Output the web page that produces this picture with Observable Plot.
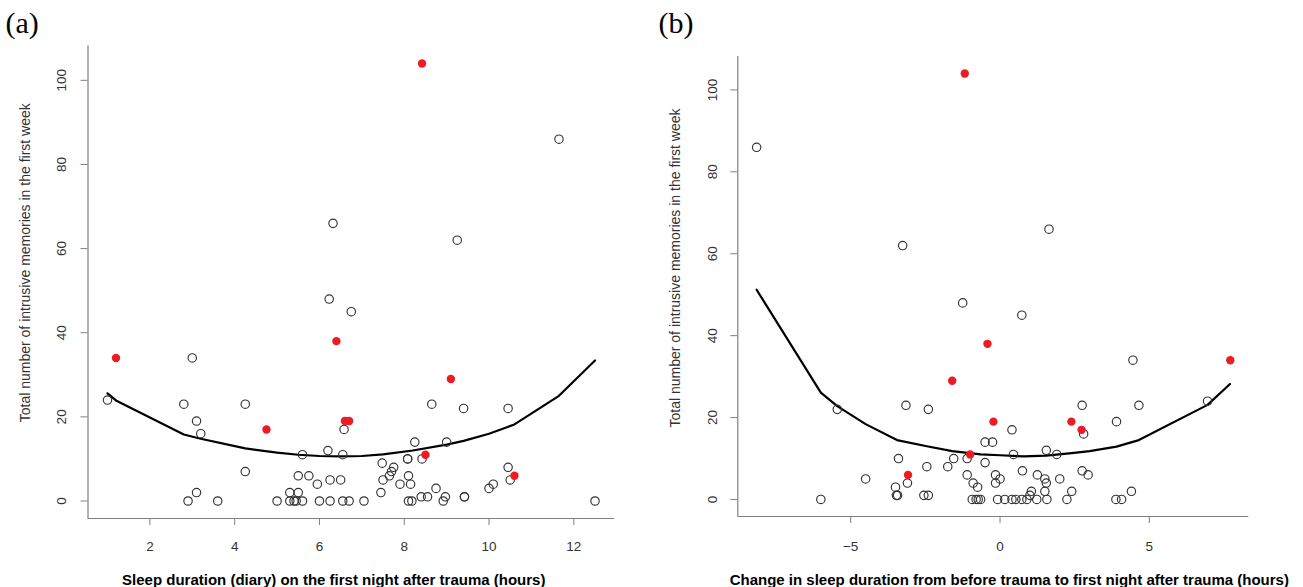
<!DOCTYPE html>
<html><head><meta charset="utf-8">
<script src="https://cdn.jsdelivr.net/npm/d3@7"></script>
<script src="https://cdn.jsdelivr.net/npm/@observablehq/plot@0.6"></script>
<style>
html,body{margin:0;padding:0;background:#fff;}
#wrap{position:relative;width:1303px;height:587px;overflow:hidden;background:#fff;}
#wrap svg{position:absolute;top:0;}
</style></head><body><div id="wrap"></div>
<script>
// ---------- Panel (a): sleep duration (hours) vs intrusive memories ----------
const aOpenX = [11.65, 6.32, 9.25, 6.23, 6.75, 3.0, 1.0,
  2.8, 4.25, 8.65, 9.4, 10.45, 3.1, 6.58, 3.2,
  8.25, 9.0, 6.2, 5.6, 6.55, 8.08, 8.08, 8.42,
  7.48, 7.75, 10.45, 4.25, 7.7, 5.5, 5.75, 8.1, 7.65,
  6.25, 6.5, 10.5, 7.5, 5.95, 7.9, 8.15, 10.1,
  8.75, 10.0, 3.1, 5.3, 5.5, 7.45,
  8.4, 8.55, 8.97, 9.42, 9.42,
  2.9, 3.6, 5.0, 5.3, 5.4, 5.45, 5.6, 6.0, 6.25, 6.55, 6.7, 7.05, 8.1, 8.18, 8.92, 12.5];
const aOpenY = [86, 66, 62, 48, 45, 34, 24,
  23, 23, 23, 22, 22, 19, 17, 16,
  14, 14, 12, 11, 11, 10, 10, 10,
  9, 8, 8, 7, 7, 6, 6, 6, 6,
  5, 5, 5, 5, 4, 4, 4, 4,
  3, 3, 2, 2, 2, 2,
  1, 1, 1, 1, 1,
  0, 0, 0, 0, 0, 0, 0, 0, 0, 0, 0, 0, 0, 0, 0, 0];
const aRedX = [1.2, 4.75, 6.4, 6.6, 6.7, 8.42, 8.5, 9.1, 10.6];
const aRedY = [34, 17, 38, 19, 19, 104, 11, 29, 6];
const aCurveX = [1.0, 1.2, 2.8, 3.2, 4.25, 5.0, 5.5, 6.0, 6.5, 7.0, 7.5, 8.2, 9.0, 9.4, 10.0, 10.6, 11.65, 12.5];
const aCurveY = [25.6, 23.9, 15.8, 14.8, 12.5, 11.5, 11.0, 10.7, 10.6, 10.7, 11.1, 12.0, 13.4, 14.3, 16.0, 18.2, 25.0, 33.4];
const aXTicks = [2, 4, 6, 8, 10, 12];
const aXDomain = [0.54, 12.96];

// ---------- Panel (b): change in sleep duration vs intrusive memories ----------
const bOpenX = [-8.15, 1.64, -3.26, -1.25, 0.73, 4.45, 6.95,
  -3.15, 2.75, 4.65, -5.45, -2.4, 3.9, 0.4, 2.8,
  -0.5, -0.25, 1.55, 0.45, 1.9, -1.1, -1.55, -3.4,
  -0.5, -2.45, -1.75, 0.75, 2.75, -1.1, -0.15, 1.25, 2.95,
  -4.5, 0.0, 1.5, 2.0, -3.1, -0.9, -0.15, 1.55,
  -3.5, -0.75, 1.05, 1.5, 2.4, 4.4,
  -3.47, -3.43, -2.55, -2.4, 1.0,
  -6.0, -0.93, -0.8, -0.73, -0.65, -0.08, 0.16, 0.4, 0.53, 0.73, 0.9, 1.23, 1.57, 2.24, 3.88, 4.07];
const bOpenY = [86, 66, 62, 48, 45, 34, 24,
  23, 23, 23, 22, 22, 19, 17, 16,
  14, 14, 12, 11, 11, 10, 10, 10,
  9, 8, 8, 7, 7, 6, 6, 6, 6,
  5, 5, 5, 5, 4, 4, 4, 4,
  3, 3, 2, 2, 2, 2,
  1, 1, 1, 1, 1,
  0, 0, 0, 0, 0, 0, 0, 0, 0, 0, 0, 0, 0, 0, 0, 0];
const bRedX = [-1.6, -0.22, -1.0, -3.08, -0.42, 7.71, 2.39, 2.73, -1.18];
const bRedY = [29, 19, 11, 6, 38, 34, 19, 17, 104];
const bCurveX = [-8.15, -6.0, -5.45, -4.5, -3.45, -2.45, -1.6, -0.65, 0.0, 0.8, 1.55, 2.4, 3.0, 3.9, 4.65, 6.95, 7.7];
const bCurveY = [51.2, 26.1, 22.8, 18.4, 14.5, 13.0, 11.8, 11.0, 10.8, 10.5, 10.7, 11.3, 11.8, 12.9, 14.5, 23.1, 28.2];
const bXTicks = [-5, 0, 5];
const bXDomain = [-8.78, 8.33];

// ---------- shared ----------
const yTicks = [0, 20, 40, 60, 80, 100];
const yDomain = [-4.16, 108.16];
const yLabel = "Total number of intrusive memories in the first week";
const aXLabel = "Sleep duration (diary) on the first night after trauma (hours)";
const bXLabel = "Change in sleep duration from before trauma to first night after trauma (hours)";
const tags = ["(a)", "(b)"];

const axisColor = "#808080";
const textColor = "#333333";
const redColor = "#ec1c24";

const zip = (xs, ys) => xs.map((x, i) => ({x, y: ys[i]}));

function panel(cfg) {
  const open = zip(cfg.openX, cfg.openY);
  const red = zip(cfg.redX, cfg.redY);
  const curve = zip(cfg.curveX, cfg.curveY);
  const svg = Plot.plot({
    width: cfg.width,
    height: 587,
    marginLeft: cfg.ml, marginRight: cfg.mr, marginTop: cfg.mt, marginBottom: cfg.mb,
    style: {fontFamily: "'Liberation Sans', Arial, sans-serif", fontSize: "13px", background: "transparent", overflow: "visible"},
    x: {domain: cfg.xDomain},
    y: {domain: yDomain},
    marks: [
      Plot.ruleX([cfg.xDomain[0]], {stroke: axisColor, strokeWidth: 1.2}),
      Plot.ruleY([yDomain[0]], {stroke: axisColor, strokeWidth: 1.2}),
      Plot.axisX({ticks: cfg.xTicks, tickSize: 7, tickPadding: cfg.xpad, stroke: axisColor, fill: textColor, fontSize: 13.5, label: null}),
      Plot.axisY({ticks: yTicks, tickSize: 7, tickPadding: cfg.ypad, tickRotate: -90, stroke: axisColor, fill: textColor, fontSize: 13.5, label: null}),
      Plot.line(curve, {x: "x", y: "y", stroke: "#000", strokeWidth: 2.2}),
      Plot.dot(open, {x: "x", y: "y", r: 4.2, stroke: "#333", strokeWidth: 1.15, fill: "none"}),
      Plot.dot(red, {x: "x", y: "y", r: 4.2, fill: redColor, stroke: "none"}),
      Plot.text([yLabel], {frameAnchor: "left", text: d => d, rotate: -90, lineAnchor: "middle", textAnchor: "middle", dx: cfg.ylDx, dy: cfg.ylDy, fill: textColor, fontSize: 14}),
      Plot.text([cfg.xLabel], {frameAnchor: "bottom", text: d => d, dx: cfg.xlDx, dy: cfg.xlDy, fill: "#000", fontSize: 15, fontWeight: "bold", textAnchor: "middle"}),
      Plot.text([cfg.tag], {frameAnchor: "top-left", text: d => d, dx: cfg.tagDx, dy: cfg.tagDy, fill: "#000", fontSize: 30, fontFamily: "'Liberation Serif', 'Times New Roman', serif"})
    ]
  });
  svg.style.left = cfg.left + "px";
  return svg;
}

const wrap = document.getElementById("wrap");
wrap.appendChild(panel({
  openX: aOpenX, openY: aOpenY, redX: aRedX, redY: aRedY, curveX: aCurveX, curveY: aCurveY,
  xDomain: aXDomain, xTicks: aXTicks, xLabel: aXLabel, tag: tags[0],
  left: 0, width: 640, ml: 87.5, mr: 26, mt: 45.5, mb: 69,
  xpad: 16, ypad: 15.5, ylDx: -62.5, ylDy: -19.5, xlDx: -17.5, xlDy: 66, tagDx: -82.5, tagDy: -34.5
}));
wrap.appendChild(panel({
  openX: bOpenX, openY: bOpenY, redX: bRedX, redY: bRedY, curveX: bCurveX, curveY: bCurveY,
  xDomain: bXDomain, xTicks: bXTicks, xLabel: bXLabel, tag: tags[1],
  left: 650, width: 653, ml: 87.3, mr: 54.7, mt: 56, mb: 71,
  xpad: 18, ypad: 13.5, ylDx: -62.3, ylDy: -18.5, xlDx: 16, xlDy: 68, tagDx: -79.3, tagDy: -45
}));
</script>
</body></html>
